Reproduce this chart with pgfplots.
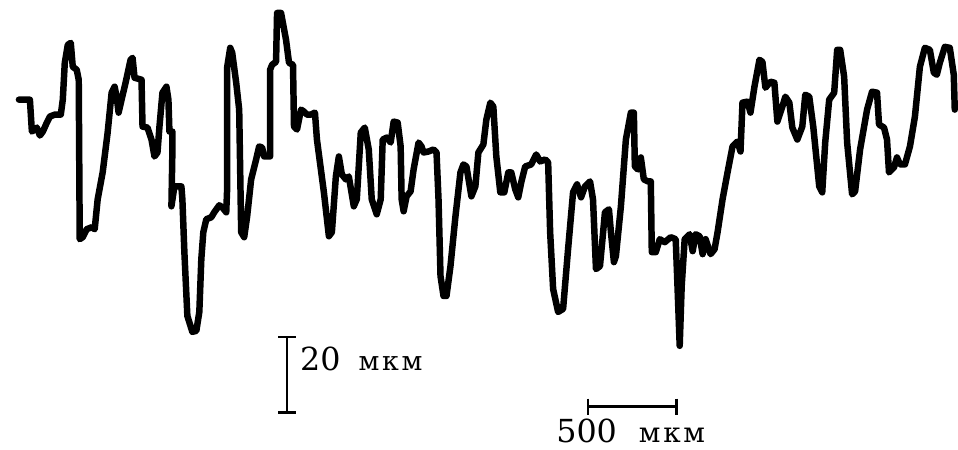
\documentclass[border=0pt]{standalone}
\usepackage{fontspec}
\setmainfont{DejaVu Serif}
\newfontfamily\unitfont[LetterSpace=10]{DejaVu Serif}
\usepackage{pgfplots}
\pgfplotsset{compat=1.18}
\begin{document}
\begin{tikzpicture}
\begin{axis}[
  scale only axis, width=958bp, height=451bp,
  xmin=0, xmax=958, ymin=0, ymax=451, y dir=reverse,
  hide axis, clip=false]
\addplot[draw=none] coordinates {(0,0) (958,451)};
\addplot[black, line width=6.5bp, line join=round, line cap=round] coordinates {
(19,100) (30,100) (32,132) (37,128) (40,136) (43,132) (47,123) (50,117) (55,115) (61,115)
(63,100) (65,63) (68,45) (71,43) (73,67) (77,70) (79,80) (80,240) (83,238) (87,230)
(92,228) (95,230) (98,200) (103,173) (108,133) (112,93) (115,87) (117,97) (119,113) (122,100)
(126,83) (131,60) (133,58) (135,78) (142,80) (143,127) (148,128) (152,140) (155,157) (158,153)
(160,127) (163,93) (167,87) (169,100) (170,132) (173,132) (173,150) (172,207) (175,187) (182,187)
(183,200) (185,253) (188,317) (193,333) (197,332) (200,313) (202,260) (204,233) (207,220) (212,218)
(215,213) (220,206) (223,208) (227,213) (228,187) (228,67) (231,48) (233,53) (237,83) (240,110)
(242,233) (245,238) (248,217) (252,180) (257,160) (260,147) (263,148) (265,157) (271,157) (271,70)
(273,65) (277,62) (278,13) (282,13) (287,40) (290,63) (294,65) (295,127) (298,130) (302,110)
(305,112) (308,115) (312,115) (316,113) (318,140) (325,193) (330,237) (333,233) (337,177) (340,157)
(343,175) (347,180) (350,177) (355,207) (358,200) (362,133) (366,128) (370,150) (373,200) (378,215)
(382,200) (384,140) (388,138) (392,143) (395,122) (399,123) (402,147) (403,200) (405,212) (408,197)
(412,192) (415,170) (420,143) (423,147) (425,153) (430,152) (435,150) (438,153) (440,200) (442,277)
(445,297) (448,297) (452,267) (457,217) (462,173) (465,165) (468,167) (473,197) (477,187) (480,153)
(485,145) (488,120) (492,103) (495,107) (498,157) (502,193) (506,193) (510,173) (513,173) (517,190)
(520,198) (523,183) (527,167) (533,165) (538,155) (542,162) (547,160) (550,163) (552,233) (555,290)
(560,313) (565,310) (570,250) (575,193) (579,185) (583,198) (587,187) (592,182) (595,200) (598,270)
(602,267) (607,213) (611,210) (613,233) (616,263) (618,257) (623,207) (628,140) (633,113) (636,113)
(637,167) (640,170) (643,158) (646,180) (650,182) (653,182) (654,253) (658,253) (662,240) (667,243)
(673,238) (678,240) (680,293) (682,347) (684,287) (687,240) (692,235) (695,252) (698,235) (702,237)
(705,255) (708,240) (713,255) (717,250) (720,233) (725,200) (730,173) (735,147) (740,142) (743,152)
(745,103) (750,102) (753,113) (757,87) (762,60) (765,62) (768,88) (773,82) (777,83) (780,122)
(785,107) (788,97) (792,103) (795,128) (800,140) (805,127) (808,95) (812,97) (816,127) (822,187)
(825,193) (828,143) (832,100) (837,93) (840,50) (843,50) (847,77) (850,143) (855,195) (858,192)
(863,150) (870,110) (875,92) (880,93) (882,125) (887,128) (890,140) (892,173) (897,168) (900,158)
(903,165) (908,165) (913,147) (918,117) (923,67) (928,48) (933,50) (937,73) (940,75) (943,63)
(948,47) (953,48) (957,75) (958,110)
};
% vertical scale bar (20 mkm)
\addplot[black, line width=2.5bp] coordinates {(288,338) (288,414)};
\addplot[black, line width=2.5bp] coordinates {(279,338) (297,338)};
\addplot[black, line width=2.5bp] coordinates {(279,414) (297,414)};
% horizontal scale bar (500 mkm)
\addplot[black, line width=2.5bp] coordinates {(590,408) (679,408)};
\addplot[black, line width=2.5bp] coordinates {(590,400) (590,416)};
\addplot[black, line width=2.5bp] coordinates {(679,400) (679,416)};
\node[anchor=base west, inner sep=0pt, font=\fontsize{32}{32}\selectfont] at (axis cs:301,372) {20\hspace{18bp}{\unitfont\fontsize{27}{27}\selectfont мкм}};
\node[anchor=base west, inner sep=0pt, font=\fontsize{32}{32}\selectfont] at (axis cs:558,444) {500\hspace{22bp}{\unitfont\fontsize{28}{28}\selectfont мкм}};
\end{axis}
\end{tikzpicture}
\end{document}
